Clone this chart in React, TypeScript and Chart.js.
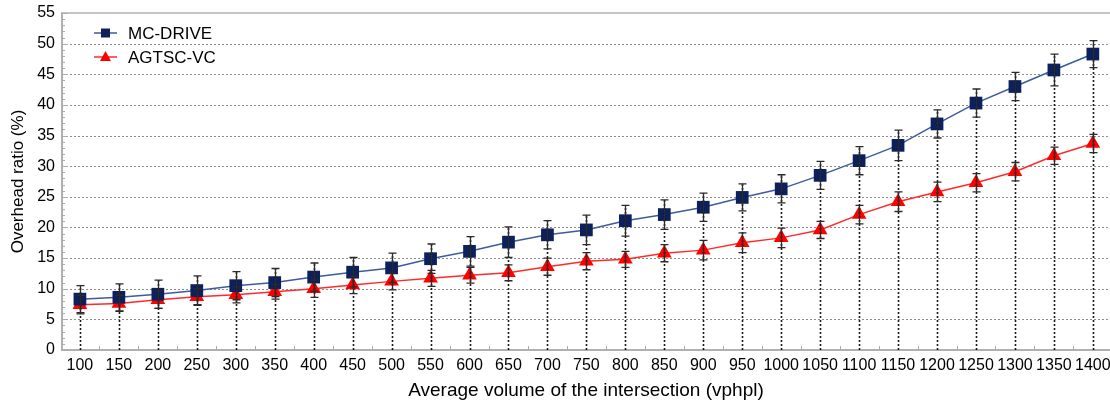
import React, { useEffect, useRef } from "react";
import { Chart, registerables } from "chart.js";

Chart.register(...registerables);

const volumes = [100, 150, 200, 250, 300, 350, 400, 450, 500, 550, 600, 650, 700, 750, 800, 850, 900, 950, 1000, 1050, 1100, 1150, 1200, 1250, 1300, 1350, 1400];
const mcDrive = [8.3, 8.6, 9.1, 9.7, 10.5, 11.0, 11.9, 12.7, 13.4, 14.9, 16.1, 17.6, 18.8, 19.6, 21.1, 22.1, 23.3, 24.9, 26.3, 28.5, 30.9, 33.4, 36.9, 40.3, 43.0, 45.7, 48.3];
const mcDriveErr = [2.2, 2.2, 2.3, 2.4, 2.3, 2.3, 2.3, 2.4, 2.4, 2.4, 2.4, 2.5, 2.3, 2.4, 2.5, 2.4, 2.3, 2.2, 2.3, 2.3, 2.3, 2.5, 2.3, 2.3, 2.3, 2.6, 2.2];
const agtscVc = [7.4, 7.6, 8.2, 8.7, 9.0, 9.5, 10.0, 10.6, 11.2, 11.7, 12.2, 12.6, 13.6, 14.5, 14.8, 15.8, 16.3, 17.5, 18.3, 19.6, 22.1, 24.2, 25.8, 27.3, 29.1, 31.7, 33.7];
const agtscVcErr = [1.5, 1.3, 1.4, 1.3, 1.3, 1.2, 1.4, 1.4, 1.4, 1.3, 1.3, 1.3, 1.4, 1.4, 1.3, 1.4, 1.6, 1.6, 1.6, 1.4, 1.5, 1.6, 1.6, 1.5, 1.5, 1.4, 1.5];
const yTicks = [0, 5, 10, 15, 20, 25, 30, 35, 40, 45, 50, 55];
const seriesNames = ["MC-DRIVE", "AGTSC-VC"];

const FONT = "'Liberation Sans', Arial, sans-serif";
const BLUE_LINE = "#3d5c9c";
const BLUE_MARK = "#0c205c";
const RED_LINE = "#ff2a2a";
const RED_MARK = "#ff0000";

const decorPlugin = {
  id: "decor",
  beforeDatasetsDraw(chart: any) {
    const { ctx, chartArea } = chart;
    const xs = chart.scales.x;
    const ys = chart.scales.y;
    ctx.save();
    ctx.strokeStyle = "#8c8c8c";
    ctx.lineWidth = 1;
    ctx.setLineDash([2, 2]);
    yTicks.forEach((v) => {
      if (v === 0 || v === 55) return;
      const y = Math.round(ys.getPixelForValue(v)) + 0.5;
      ctx.beginPath();
      ctx.moveTo(chartArea.left, y);
      ctx.lineTo(chartArea.right, y);
      ctx.stroke();
    });
    ctx.setLineDash([]);
    ctx.strokeStyle = "#c4c4c4";
    ctx.lineWidth = 2;
    const yTop = ys.getPixelForValue(55);
    ctx.beginPath();
    ctx.moveTo(chartArea.left, yTop);
    ctx.lineTo(chartArea.right, yTop);
    ctx.stroke();
    ctx.strokeStyle = "#aaaaaa";
    ctx.lineWidth = 1;
    for (let v = 0; v <= 55; v += 1) {
      const y = Math.round(ys.getPixelForValue(v)) + 0.5;
      const len = v % 5 === 0 ? 6 : 3;
      ctx.beginPath();
      ctx.moveTo(chartArea.left, y);
      ctx.lineTo(chartArea.left + len, y);
      ctx.stroke();
    }
    const yBot = ys.getPixelForValue(0);
    for (let i = 0; i < volumes.length - 1; i++) {
      const mid = (volumes[i] + volumes[i + 1]) / 2;
      const x = Math.round(xs.getPixelForValue(mid)) + 0.5;
      ctx.beginPath();
      ctx.moveTo(x, yBot);
      ctx.lineTo(x, yBot - 4);
      ctx.stroke();
    }
    ctx.restore();
  },
  afterDatasetsDraw(chart: any) {
    const { ctx } = chart;
    const xs = chart.scales.x;
    const ys = chart.scales.y;
    ctx.save();
    const y0 = ys.getPixelForValue(0);
    ctx.strokeStyle = "#1a1a1a";
    ctx.lineWidth = 1.6;
    ctx.setLineDash([2, 2]);
    volumes.forEach((v, i) => {
      const x = Math.round(xs.getPixelForValue(v)) + 0.5;
      const top = ys.getPixelForValue(Math.max(mcDrive[i] + mcDriveErr[i], agtscVc[i] + agtscVcErr[i]));
      ctx.beginPath();
      ctx.moveTo(x, y0);
      ctx.lineTo(x, top);
      ctx.stroke();
    });
    ctx.setLineDash([]);
    const drawErr = (vals: number[], errs: number[]) => {
      ctx.strokeStyle = "#2a2a2a";
      ctx.lineWidth = 1.3;
      volumes.forEach((v, i) => {
        const x = Math.round(xs.getPixelForValue(v)) + 0.5;
        const yh = ys.getPixelForValue(vals[i] + errs[i]);
        const yl = ys.getPixelForValue(vals[i] - errs[i]);
        ctx.beginPath();
        ctx.moveTo(x, yh);
        ctx.lineTo(x, yl);
        ctx.moveTo(x - 4, yh);
        ctx.lineTo(x + 4, yh);
        ctx.moveTo(x - 4, yl);
        ctx.lineTo(x + 4, yl);
        ctx.stroke();
      });
    };
    drawErr(mcDrive, mcDriveErr);
    drawErr(agtscVc, agtscVcErr);
    ctx.restore();
  },
  afterDraw(chart: any) {
    const { ctx } = chart;
    ctx.save();
    const rows = [
      { y: 33, line: BLUE_LINE, mark: BLUE_MARK, style: "rect", name: seriesNames[0] },
      { y: 57, line: RED_LINE, mark: RED_MARK, style: "triangle", name: seriesNames[1] },
    ];
    rows.forEach((r) => {
      ctx.strokeStyle = r.line;
      ctx.lineWidth = 1.5;
      ctx.beginPath();
      ctx.moveTo(94, r.y);
      ctx.lineTo(117, r.y);
      ctx.stroke();
      ctx.fillStyle = r.mark;
      ctx.beginPath();
      if (r.style === "rect") {
        ctx.rect(101, r.y - 4.5, 9, 9);
      } else {
        ctx.moveTo(105.5, r.y - 6);
        ctx.lineTo(111, r.y + 4);
        ctx.lineTo(100, r.y + 4);
        ctx.closePath();
      }
      ctx.fill();
      ctx.fillStyle = "#000";
      ctx.font = `17px ${FONT}`;
      ctx.textBaseline = "middle";
      ctx.textAlign = "left";
      ctx.fillText(r.name, 128, r.y + 1);
    });
    ctx.restore();
  },
};

export default function App() {
  const ref = useRef<HTMLCanvasElement | null>(null);
  useEffect(() => {
    if (!ref.current) return;
    const chart = new Chart(ref.current, {
      type: "line",
      data: {
        datasets: [
          {
            label: seriesNames[0],
            data: volumes.map((v, i) => ({ x: v, y: mcDrive[i] })),
            borderColor: BLUE_LINE,
            borderWidth: 1.5,
            pointStyle: "rect",
            pointRadius: 9,
            pointBackgroundColor: BLUE_MARK,
            pointBorderColor: BLUE_MARK,
            pointBorderWidth: 0,
            tension: 0,
          },
          {
            label: seriesNames[1],
            data: volumes.map((v, i) => ({ x: v, y: agtscVc[i] })),
            borderColor: RED_LINE,
            borderWidth: 1.5,
            pointStyle: "triangle",
            pointRadius: 8.5,
            pointBackgroundColor: RED_MARK,
            pointBorderColor: RED_MARK,
            pointBorderWidth: 0,
            tension: 0,
          },
        ],
      },
      options: {
        responsive: false,
        animation: false,
        layout: { autoPadding: false, padding: { top: 13, right: 0, left: 0, bottom: 0 } },
        plugins: { legend: { display: false }, tooltip: { enabled: false } },
        scales: {
          x: {
            type: "linear",
            min: 77,
            max: 1422,
            afterBuildTicks: (s: any) => {
              s.ticks = volumes.map((v) => ({ value: v }));
            },
            afterFit: (s: any) => {
              s.height = 56;
              s.paddingLeft = 0;
              s.paddingRight = 0;
            },
            grid: { display: false, drawTicks: false },
            border: { display: true, color: "#b0b0b0", width: 2 },
            ticks: {
              autoSkip: false,
              maxRotation: 0,
              padding: 6,
              color: "#000",
              font: { family: FONT, size: 16 },
              callback: (v: any) => String(v),
            },
            title: {
              display: true,
              text: "Average volume of the intersection (vphpl)",
              color: "#000",
              font: { family: FONT, size: 19 },
              padding: { top: 0, bottom: 4 },
            },
          },
          y: {
            min: 0,
            max: 55,
            afterBuildTicks: (s: any) => {
              s.ticks = yTicks.map((v) => ({ value: v }));
            },
            afterFit: (s: any) => {
              s.width = 62;
              s.paddingTop = 0;
              s.paddingBottom = 0;
            },
            grid: { display: false, drawTicks: false },
            border: { display: true, color: "#b0b0b0", width: 2 },
            ticks: {
              padding: 7,
              color: "#000",
              font: { family: FONT, size: 16 },
            },
            title: {
              display: true,
              text: "Overhead ratio (%)",
              color: "#000",
              font: { family: FONT, size: 17 },
              padding: { top: 8, bottom: 0 },
            },
          },
        },
      },
      plugins: [decorPlugin],
    } as any);
    return () => chart.destroy();
  }, []);
  return (
    <div style={{ position: "absolute", left: 0, top: 0, width: 1110, height: 406, background: "#fff" }}>
      <canvas ref={ref} width={1110} height={406} />
    </div>
  );
}
